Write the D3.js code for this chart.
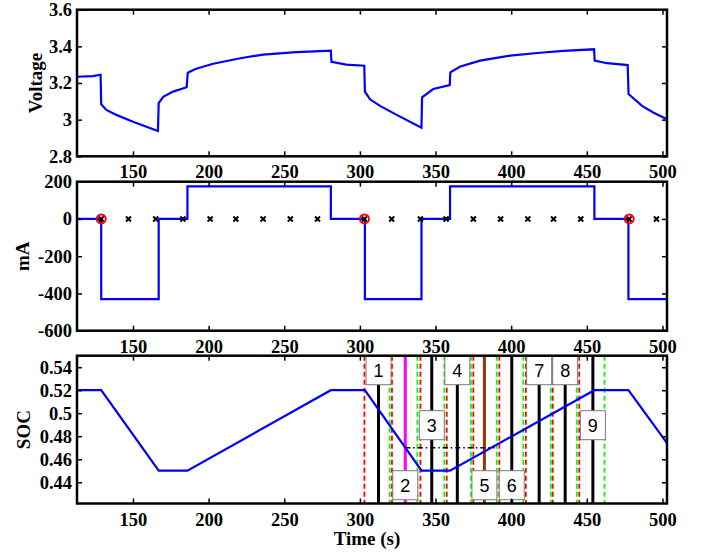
<!DOCTYPE html>
<html>
<head>
<meta charset="utf-8">
<script src="https://cdn.jsdelivr.net/npm/d3@7"></script>
<style>
  body { margin: 0; background: #fff; }
  svg { display: block; }
  .tick text { font-family: "Liberation Serif", "Times New Roman", serif; font-weight: bold; font-size: 18.5px; fill: #000; }
  .tick line { stroke: #000; stroke-width: 1.5; }
  .ylab, .xlab { font-family: "Liberation Serif", "Times New Roman", serif; font-weight: bold; font-size: 19px; }
  .boxnum { font-family: "Liberation Sans", Arial, sans-serif; font-size: 18px; }
</style>
</head>
<body>
<div id="chart"></div>
<script>
// Voltage trace (s, V)
var timeV = [113, 123.5, 128.6, 129, 132.4, 139, 150, 158, 166.5, 167, 170, 176.5, 185.5, 186.2, 191, 194,
  203, 212, 221, 236, 258, 270, 280.8, 281.2, 291, 302.9, 303.3, 306.7, 313.3, 324.3, 340.7, 341.1,
  348.5, 359.4, 359.8, 366, 379.4, 399.3, 419.1, 434.6, 454.8, 455.2, 463.3, 477, 477.6, 486.5, 494.2, 503];
var voltV = [3.234, 3.238, 3.245, 3.084, 3.053, 3.026, 2.989, 2.964, 2.938, 3.09, 3.125, 3.153, 3.177, 3.256, 3.275, 3.283,
  3.305, 3.32, 3.335, 3.355, 3.368, 3.373, 3.376, 3.316, 3.30, 3.294, 3.153, 3.111, 3.075, 3.026, 2.956, 3.122,
  3.167, 3.189, 3.258, 3.289, 3.322, 3.349, 3.365, 3.375, 3.384, 3.322, 3.308, 3.298, 3.14, 3.075, 3.038, 3.002];

// Current steps (s, mA)
var stepT = [113, 129, 167, 186, 280.8, 303.3, 340.7, 359.6, 455, 477.5, 503];
var currentV = [0, -430, 0, 175, 0, -430, 0, 175, 0, -430, -430];

// rest-period sample marks
var markT = [129, 147, 165, 183, 201, 218, 236, 254, 272, 303, 321, 340, 357, 375, 393, 411, 428, 446, 478, 496];
var circleT = [129, 303, 478];

// SOC vertices
var socT = [113, 129, 167, 186, 280.8, 303.3, 340.7, 359.6, 455, 477.5, 503];
var socV = [0.52, 0.52, 0.45, 0.45, 0.52, 0.52, 0.45, 0.45, 0.52, 0.52, 0.474];

// window edges and cursors in SOC panel
var redT = [303, 321.2, 340, 357.4, 375, 392.2, 409.7, 427.5, 445];
var greenT = [319.7, 338, 355.8, 373.4, 390.5, 408, 426.2, 443.4, 461.7];
var cursorT = [312.3, 330, 347.5, 364.4, 382.3, 400.4, 418.5, 435.7, 454];
var cursorLabels = ["1", "2", "3", "4", "5", "6", "7", "8", "9"];
var refSoc = 0.47;
var refT = [330, 389];

// tick labels
var xTicks = [150, 200, 250, 300, 350, 400, 450, 500];
var vTicks = [2.8, 3, 3.2, 3.4, 3.6];
var iTicks = [-600, -400, -200, 0, 200];
var socTicks = [0.44, 0.46, 0.48, 0.5, 0.52, 0.54];

// styling for cursors (kept apart from the values)
var cursorColor = ["#000", "#ff00ff", "#000", "#000", "#993300", "#000", "#000", "#000", "#000"];
var boxSlot = ["top", "bottom", "mid", "top", "bottom", "bottom", "top", "top", "mid"];

var W = 701, H = 554;
var PLOT_L = 77, PLOT_R = 667;

var svg = d3.select("#chart").append("svg").attr("width", W).attr("height", H);
var defs = svg.append("defs");

var x = d3.scaleLinear().domain([113, 503]).range([PLOT_L, PLOT_R]);

var panels = [
  { top: 9.7, bottom: 156.3, domain: [2.8, 3.6], ticks: vTicks, label: "Voltage", labelX: 35 },
  { top: 181.7, bottom: 330.7, domain: [-600, 200], ticks: iTicks, label: "mA", labelX: 22 },
  { top: 355.7, bottom: 503.5, domain: [0.4215, 0.55], ticks: socTicks, label: "SOC", labelX: 23 }
];

panels.forEach(function (p, i) {
  p.y = d3.scaleLinear().domain(p.domain).range([p.bottom, p.top]);
  p.g = svg.append("g");
  defs.append("clipPath").attr("id", "clip" + i)
      .append("rect").attr("x", PLOT_L).attr("y", p.top)
      .attr("width", PLOT_R - PLOT_L).attr("height", p.bottom - p.top);
  p.plot = p.g.append("g").attr("clip-path", "url(#clip" + i + ")");
});

// ---- Voltage
var vPanel = panels[0];
vPanel.plot.append("path")
    .datum(d3.zip(timeV, voltV))
    .attr("fill", "none").attr("stroke", "#0000ff").attr("stroke-width", 2.2)
    .attr("d", d3.line().x(function (d) { return x(d[0]); }).y(function (d) { return vPanel.y(d[1]); }));

// ---- Current
var iPanel = panels[1];
iPanel.plot.append("path")
    .datum(d3.zip(stepT, currentV))
    .attr("fill", "none").attr("stroke", "#0000ff").attr("stroke-width", 2.2)
    .attr("d", d3.line().curve(d3.curveStepAfter)
        .x(function (d) { return x(d[0]); }).y(function (d) { return iPanel.y(d[1]); }));

var cr = 2.5;
markT.forEach(function (t) {
  var cx = x(t), cy = iPanel.y(0);
  iPanel.plot.append("path")
      .attr("d", "M" + (cx - cr) + "," + (cy - cr) + "L" + (cx + cr) + "," + (cy + cr) +
                 "M" + (cx - cr) + "," + (cy + cr) + "L" + (cx + cr) + "," + (cy - cr))
      .attr("stroke", "#000").attr("stroke-width", 2);
});
circleT.forEach(function (t) {
  iPanel.plot.append("circle")
      .attr("cx", x(t)).attr("cy", iPanel.y(0)).attr("r", 4.5)
      .attr("fill", "none").attr("stroke", "#ff0000").attr("stroke-width", 2);
});

// ---- SOC
var sPanel = panels[2];
function vline(t, color, width, dash) {
  var l = sPanel.plot.append("line")
      .attr("x1", x(t)).attr("x2", x(t))
      .attr("y1", sPanel.top).attr("y2", sPanel.bottom)
      .attr("stroke", color).attr("stroke-width", width);
  if (dash) l.attr("stroke-dasharray", dash);
}
cursorT.forEach(function (t, i) { vline(t, cursorColor[i], 3, null); });
greenT.forEach(function (t) { vline(t, "#00ff00", 1.8, "5,3"); });
redT.forEach(function (t) { vline(t, "#ff0000", 1.8, "5,3"); });

sPanel.plot.append("path")
    .datum(d3.zip(socT, socV))
    .attr("fill", "none").attr("stroke", "#0000ff").attr("stroke-width", 2.2)
    .attr("d", d3.line().x(function (d) { return x(d[0]); }).y(function (d) { return sPanel.y(d[1]); }));

sPanel.plot.append("line")
    .attr("x1", x(refT[0])).attr("x2", x(refT[1]))
    .attr("y1", sPanel.y(refSoc)).attr("y2", sPanel.y(refSoc))
    .attr("stroke", "#000").attr("stroke-width", 1.6).attr("stroke-dasharray", "5,3,1.5,3");

var BOX_W = 25, BOX_H = 29;
var slotOffset = { top: 0, mid: 55, bottom: 115 };
cursorT.forEach(function (t, i) {
  var bx = x(t) - BOX_W / 2, by = sPanel.top + slotOffset[boxSlot[i]];
  sPanel.g.append("rect")
      .attr("x", bx).attr("y", by).attr("width", BOX_W).attr("height", BOX_H)
      .attr("fill", "#fff").attr("stroke", "#7a7a7a").attr("stroke-width", 1);
  sPanel.g.append("text").attr("class", "boxnum")
      .attr("x", x(t)).attr("y", by + BOX_H / 2 + 6.5)
      .attr("text-anchor", "middle").text(cursorLabels[i]);
});

// ---- axes, inward ticks on all sides, and frame
panels.forEach(function (p) {
  p.g.append("g").attr("transform", "translate(0," + p.bottom + ")")
      .call(d3.axisBottom(x).tickValues(xTicks).tickFormat(d3.format("d"))
          .tickSizeInner(-5).tickSizeOuter(0).tickPadding(9))
      .call(function (g) { g.select(".domain").remove(); });
  p.g.append("g").attr("transform", "translate(0," + p.top + ")")
      .call(d3.axisTop(x).tickValues(xTicks).tickFormat("")
          .tickSizeInner(-5).tickSizeOuter(0))
      .call(function (g) { g.select(".domain").remove(); });
  p.g.append("g").attr("transform", "translate(" + PLOT_L + ",0)")
      .call(d3.axisLeft(p.y).tickValues(p.ticks).tickFormat(function (d) { return String(+d.toFixed(2)); })
          .tickSizeInner(-5).tickSizeOuter(0).tickPadding(5))
      .call(function (g) { g.select(".domain").remove(); });
  p.g.append("g").attr("transform", "translate(" + PLOT_R + ",0)")
      .call(d3.axisRight(p.y).tickValues(p.ticks).tickFormat("")
          .tickSizeInner(-5).tickSizeOuter(0))
      .call(function (g) { g.select(".domain").remove(); });
  p.g.append("rect")
      .attr("x", PLOT_L).attr("y", p.top)
      .attr("width", PLOT_R - PLOT_L).attr("height", p.bottom - p.top)
      .attr("fill", "none").attr("stroke", "#000").attr("stroke-width", 2.5);
  p.g.append("text").attr("class", "ylab")
      .attr("transform", "translate(" + p.labelX + "," + ((p.top + p.bottom) / 2) + ") rotate(-90)")
      .attr("text-anchor", "middle").attr("dy", "0.35em").text(p.label);
});

svg.append("text").attr("class", "xlab")
    .attr("x", 367).attr("y", 545).attr("text-anchor", "middle").text("Time (s)");
</script>
</body>
</html>
